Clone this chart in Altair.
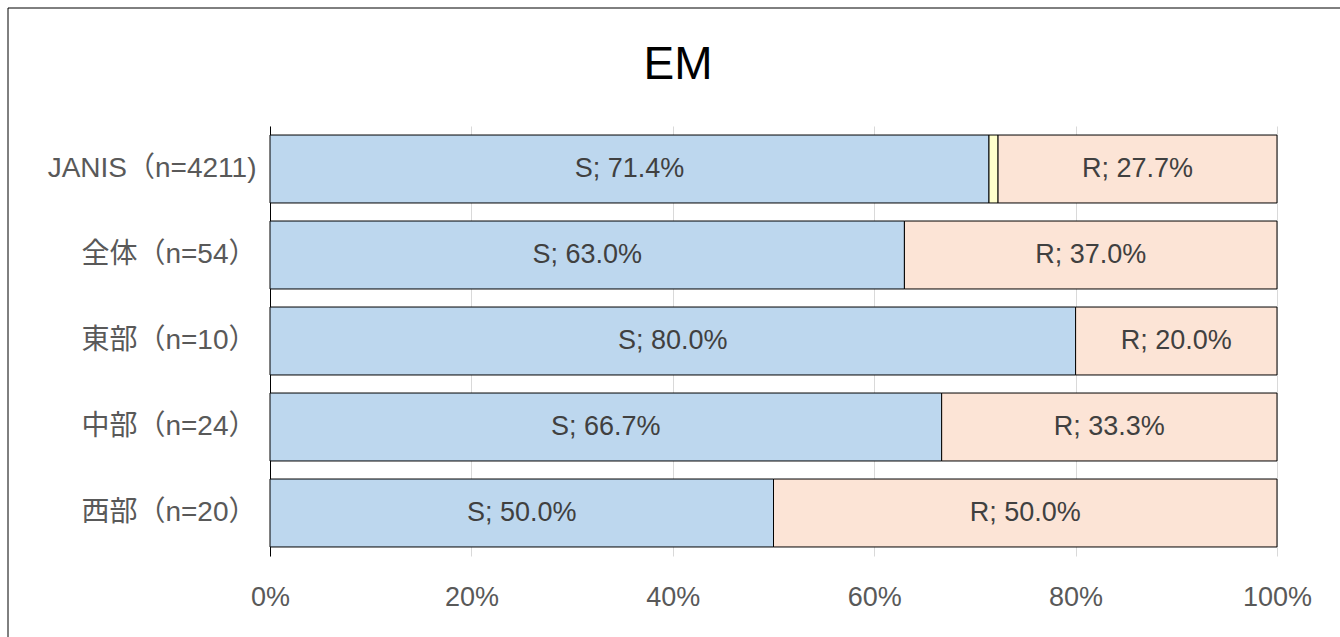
import altair as alt
import pandas as pd

categories = ["JANIS（n=4211)", "全体（n=54）", "東部（n=10）", "中部（n=24）", "西部（n=20）"]
classes = ["S", "I", "R"]
s_values = [71.4, 63.0, 80.0, 66.7, 50.0]
i_values = [0.9, 0.0, 0.0, 0.0, 0.0]
r_values = [27.7, 37.0, 20.0, 33.3, 50.0]
colors = ["#BDD7EE", "#FFFFCC", "#FCE4D6"]
x_ticks = [0, 0.2, 0.4, 0.6, 0.8, 1.0]

rows = []
for ci, cat in enumerate(categories):
    for k, (cls, vals) in enumerate(zip(classes, [s_values, i_values, r_values])):
        rows.append({"cat": cat, "cls": cls, "ord": k, "pct": vals[ci], "value": vals[ci] / 100})
df = pd.DataFrame(rows)

FONT = "Liberation Sans, Noto Sans CJK JP, sans-serif"

base = alt.Chart(df).transform_filter("datum.value > 0").transform_stack(
    stack="value", groupby=["cat"], as_=["x0", "x1"], sort=[alt.SortField("ord")]
)

y_enc = alt.Y(
    "cat:N",
    sort=categories,
    title=None,
    scale=alt.Scale(paddingInner=0.21, paddingOuter=0.105),
    axis=alt.Axis(
        domain=True, domainColor="#000000", domainWidth=1, ticks=False,
        labelFontSize=28, labelColor="#595959", labelFont=FONT, labelPadding=14,
        labelLimit=400, grid=False,
    ),
)

bars = base.mark_bar(stroke="#000000", strokeWidth=1).encode(
    x=alt.X(
        "x0:Q",
        title=None,
        scale=alt.Scale(domain=[0, 1], nice=False),
        axis=alt.Axis(
            values=x_ticks, format=".0%", domain=False, ticks=False,
            grid=True, gridColor="#D9D9D9", gridWidth=1, labelFlush=False,
            labelFontSize=27, labelColor="#595959", labelFont=FONT, labelPadding=28,
        ),
    ),
    x2="x1:Q",
    y=y_enc,
    color=alt.Color("cls:N", scale=alt.Scale(domain=classes, range=colors), legend=None),
)

labels = base.transform_filter("datum.cls != 'I'").transform_calculate(
    mid="(datum.x0 + datum.x1) / 2",
    lab="datum.cls + '; ' + format(datum.pct, '.1f') + '%'",
).mark_text(fontSize=27, color="#404040", font=FONT, baseline="middle").encode(
    x=alt.X("mid:Q"),
    y=alt.Y("cat:N", sort=categories),
    text="lab:N",
)

border = alt.Chart(pd.DataFrame({"a": [0]})).mark_rect(
    fill=None, stroke="#000000", strokeWidth=1
).encode(
    x=alt.value(-262), x2=alt.value(1340 - 270 + 10),
    y=alt.value(-118), y2=alt.value(637 - 126 + 10),
)

title = alt.Chart(pd.DataFrame({"t": ["EM"]})).mark_text(
    fontSize=46, color="#000000", font=FONT, baseline="middle", align="center"
).encode(text="t:N", x=alt.value(678 - 270), y=alt.value(65 - 126))

chart = alt.layer(bars, labels, border, title).properties(
    width=1007, height=430,
    autosize=alt.AutoSizeParams(type="none"),
    padding={"left": 270, "top": 126, "right": 63, "bottom": 81},
    background="#FFFFFF",
).configure_view(stroke=None)

chart.save("out.html", embed_options={"renderer": "svg", "actions": False})
